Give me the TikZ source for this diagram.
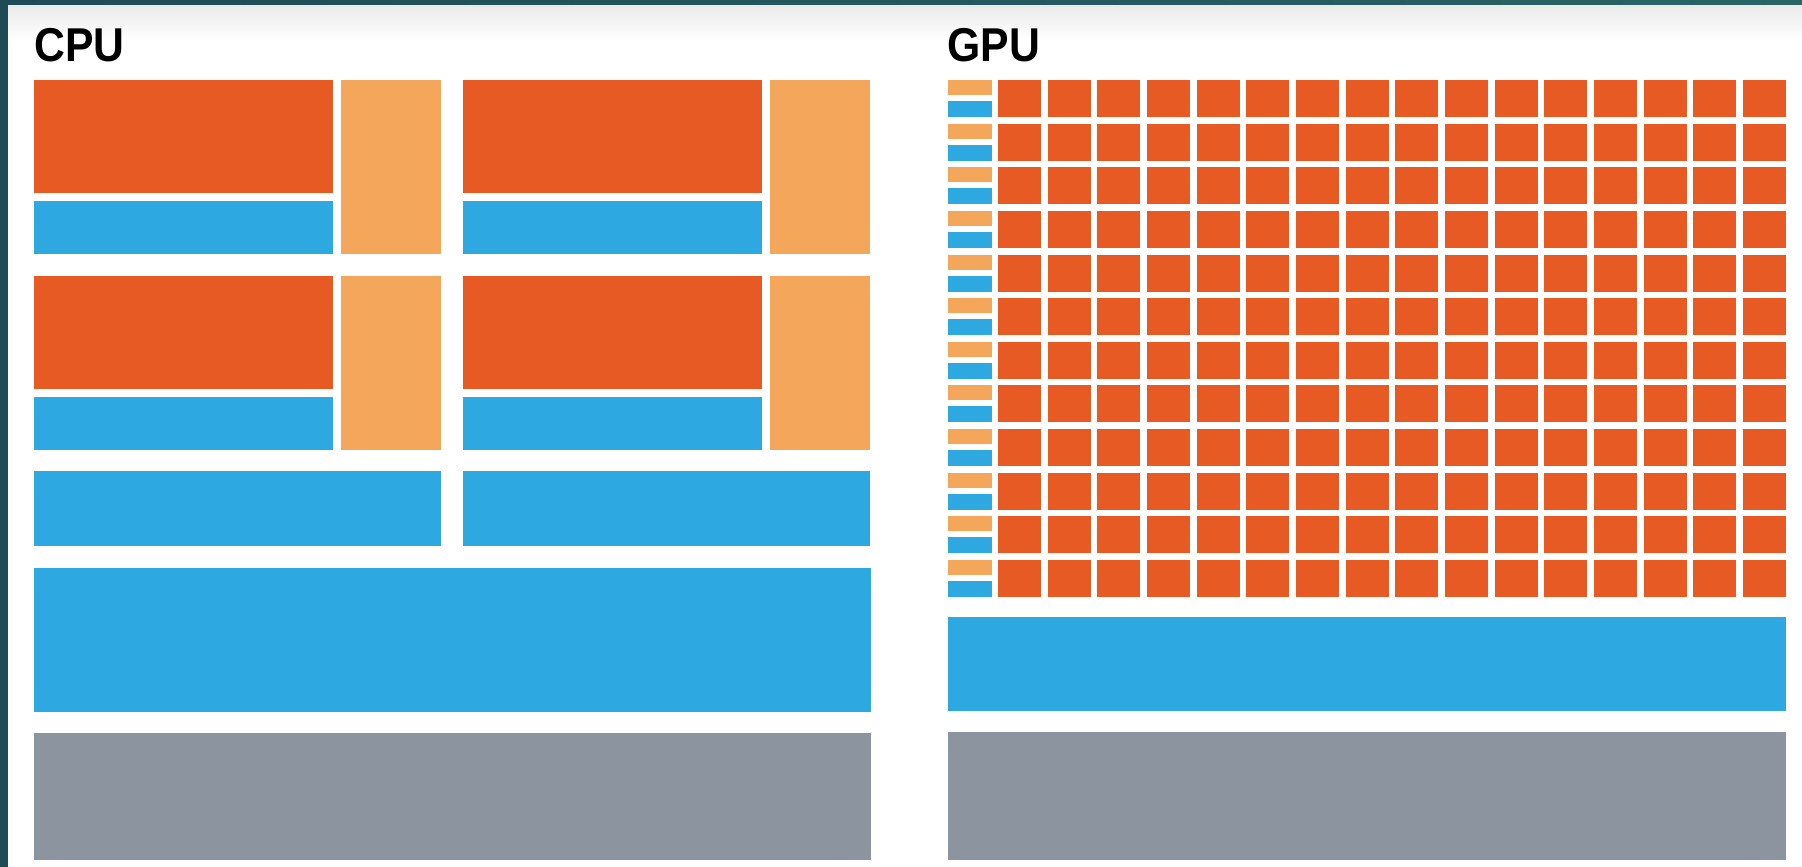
\documentclass[tikz,border=0pt]{standalone}
\usepackage{fontspec}
\setmainfont{Liberation Sans}
\definecolor{frame}{HTML}{1F4B56}
\definecolor{frametop}{HTML}{2A6465}
\definecolor{core}{HTML}{E85A24}
\definecolor{ctrl}{HTML}{F4A65A}
\definecolor{cache}{HTML}{2EA8E0}
\definecolor{dram}{HTML}{8C959F}
\begin{document}
\begin{tikzpicture}[x=0.01cm,y=-0.01cm,
  corebox/.style={fill=core},
  ctrlbox/.style={fill=ctrl},
  cachebox/.style={fill=cache},
  drambox/.style={fill=dram},
  title/.style={font=\fontsize{13.5pt}{14pt}\selectfont\bfseries, inner sep=0pt, anchor=base west, xscale=0.9, draw=black, line width=0.25pt}]
\useasboundingbox (0,0) rectangle (1802,867);
% frame
\fill[left color=frame, right color=frametop] (0,0) rectangle (1802,867);
\fill[white] (8,6) rectangle (1802,867);
\shade[top color=black!8, bottom color=white] (8,6) rectangle (1802,40);
% titles
\node[title, draw=none] (cpu) at (34,62) {CPU};
\node[title, draw=none] (gpu) at (947,62) {GPU};
% CPU
\foreach \xo in {0,429}{
  \foreach \yo in {0,196}{
    \fill[corebox] (34+\xo,80+\yo) rectangle (333+\xo,193+\yo);
    \fill[cachebox] (34+\xo,201+\yo) rectangle (333+\xo,254+\yo);
    \fill[ctrlbox] (341+\xo,80+\yo) rectangle (441+\xo,254+\yo);
  }
  \fill[cachebox] (34+\xo,471) rectangle (441+\xo,546);
}
\fill[cachebox] (34,568) rectangle (871,712);
\fill[drambox] (34,733) rectangle (871,860);
% GPU
\foreach \j in {0,...,11}{
  \pgfmathsetmacro{\yy}{80+\j*43.64}
  \fill[ctrlbox] (948,\yy) rectangle (992,\yy+15);
  \fill[cachebox] (948,\yy+21) rectangle (992,\yy+37);
  \foreach \i in {0,...,15}{
    \pgfmathsetmacro{\xx}{998+\i*49.67}
    \fill[corebox] (\xx,\yy) rectangle (\xx+43,\yy+37);
  }
}
\fill[cachebox] (948,617) rectangle (1786,711);
\fill[drambox] (948,732) rectangle (1786,860);
\end{tikzpicture}
\end{document}
